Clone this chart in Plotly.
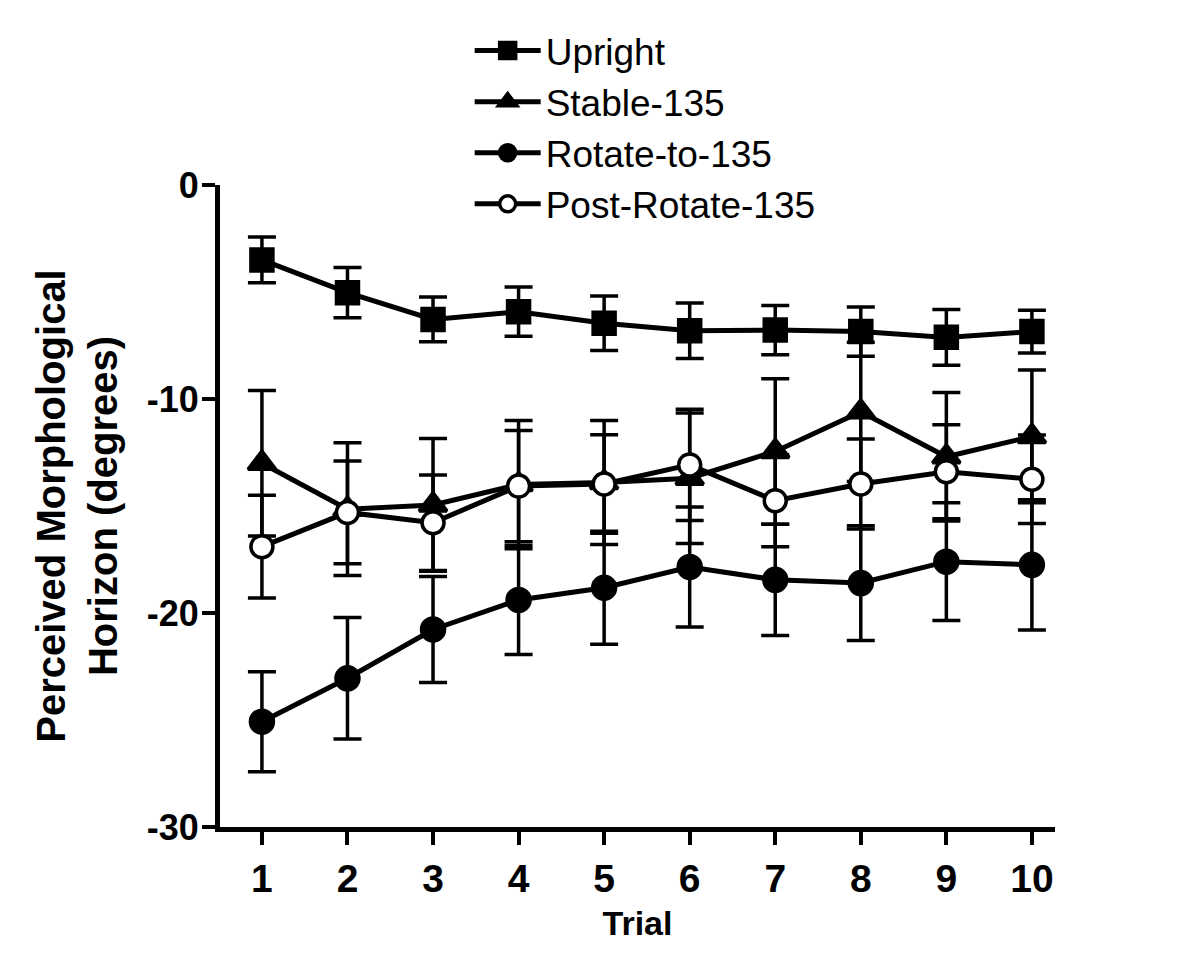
import plotly.graph_objects as go

trials = [1, 2, 3, 4, 5, 6, 7, 8, 9, 10]

upright = [-3.5, -5.03, -6.28, -5.92, -6.46, -6.81, -6.78, -6.85, -7.12, -6.85]
upright_se = [1.07, 1.17, 1.05, 1.15, 1.27, 1.3, 1.15, 1.15, 1.3, 1.0]

stable = [-13.0, -15.15, -14.95, -14.0, -13.9, -13.7, -12.45, -10.6, -12.7, -11.75]
stable_se = [3.4, 3.1, 3.1, 3.0, 2.9, 3.05, 3.4, 3.25, 3.0, 3.1]

rotate_to = [-25.08, -23.05, -20.77, -19.39, -18.82, -17.85, -18.45, -18.6, -17.6, -17.75]
rotate_to_se = [2.34, 2.84, 2.48, 2.55, 2.64, 2.8, 2.6, 2.68, 2.75, 3.04]

post_rotate = [-16.9, -15.3, -15.78, -14.07, -13.97, -13.08, -14.75, -13.97, -13.4, -13.75]
post_rotate_se = [2.4, 2.4, 2.23, 2.6, 2.3, 2.6, 2.15, 2.1, 2.2, 2.07]

y_tick_vals = [0, -10, -20, -30]
y_tick_text = ["0", "-10", "-20", "-30"]

series = [
    ("Upright", upright, upright_se, "square", "black", 22),
    ("Stable-135", stable, stable_se, "triangle-up", "black", 24),
    ("Rotate-to-135", rotate_to, rotate_to_se, "circle", "black", 23),
    ("Post-Rotate-135", post_rotate, post_rotate_se, "circle", "white", 22),
]

fig = go.Figure()
for i, (name, vals, se, sym, fill, size) in enumerate(series):
    fig.add_trace(go.Scatter(
        x=trials, y=vals, name=name, mode="lines+markers",
        legendgroup=f"g{i}",
        line=dict(color="black", width=5),
        marker=dict(symbol=sym, size=size, color=fill,
                    line=dict(color="black", width=3.5)),
        error_y=dict(type="data", array=se, visible=True,
                     color="black", thickness=3.5, width=14),
    ))

font_family = "Liberation Sans, Arial, sans-serif"

fig.update_layout(
    width=1200, height=972,
    paper_bgcolor="white", plot_bgcolor="white",
    margin=dict(l=212, r=153, t=177, b=153, autoexpand=False),
    font=dict(family=font_family, color="black"),
    showlegend=True,
    legend=dict(
        x=0.299, y=1.257, xanchor="left", yanchor="top",
        font=dict(size=37, family=font_family, color="black"),
        itemwidth=66, tracegroupgap=0,
        bgcolor="rgba(0,0,0,0)", borderwidth=0,
    ),
    xaxis=dict(
        range=[0.51, 10.27], tickvals=trials,
        ticktext=[str(t) for t in trials],
        automargin=False,
        showgrid=False, zeroline=False,
        showline=True, linecolor="black", linewidth=5,
        ticks="outside", ticklen=13, tickwidth=4, tickcolor="black",
        tickfont=dict(size=39, family=font_family, weight="bold"),
        title=dict(text="<b>Trial</b>", font=dict(size=34, family=font_family), standoff=14),
    ),
    yaxis=dict(
        range=[-30, 0], tickvals=y_tick_vals, ticktext=y_tick_text,
        automargin=False,
        showgrid=False, zeroline=False,
        showline=True, linecolor="black", linewidth=5,
        ticks="outside", ticklen=13, tickwidth=4, tickcolor="black",
        ticklabelstandoff=-4,
        tickfont=dict(size=36, family=font_family, weight="bold"),
        title=dict(text="<b>Perceived Morphological<br>Horizon (degrees)</b>",
                   font=dict(size=40, family=font_family), standoff=18),
    ),
)

fig.write_html("out.html")
